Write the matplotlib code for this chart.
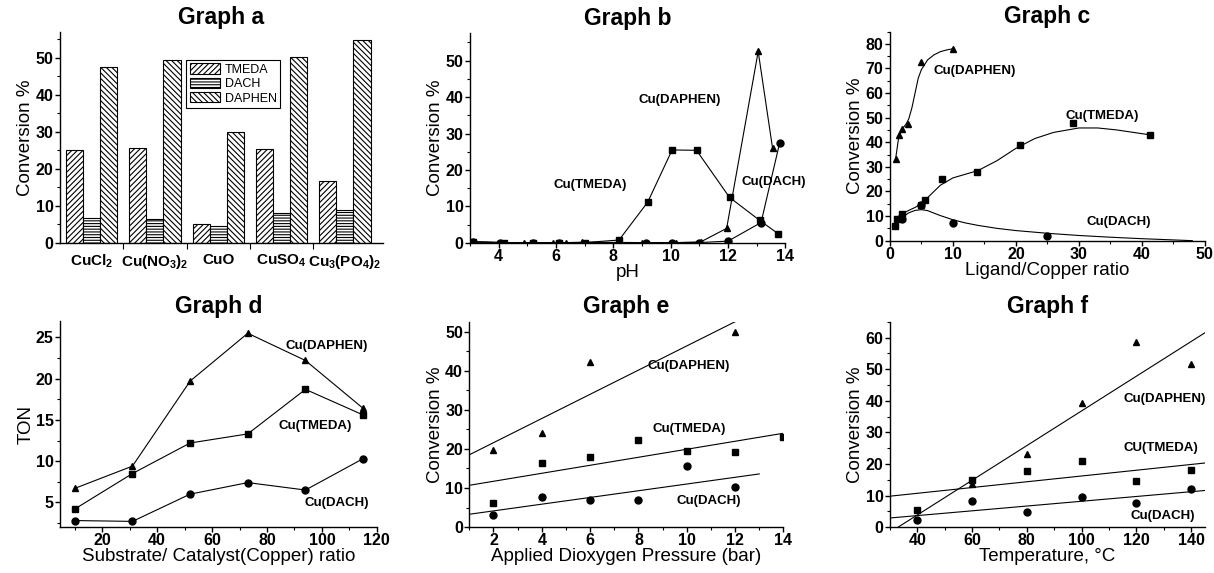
import numpy as np
import matplotlib
matplotlib.use("Agg")
import matplotlib.pyplot as plt
from matplotlib.ticker import AutoMinorLocator

plt.rcParams['font.family'] = ['Liberation Sans', 'DejaVu Sans']
plt.rcParams['mathtext.default'] = 'regular'
plt.rcParams['hatch.linewidth'] = 0.8

# ==== Données ====
# Graph a : sels de cuivre
sels = ['CuCl$_2$', 'Cu(NO$_3$)$_2$', 'CuO', 'CuSO$_4$', 'Cu$_3$(PO$_4$)$_2$']
a_tmeda = [25.0, 25.7, 5.0, 25.5, 16.8]
a_dach = [6.8, 6.6, 4.5, 8.2, 8.8]
a_daphen = [47.5, 49.4, 30.1, 50.4, 54.8]

# Graph b : pH
b_tmeda_x = [3.1, 4.2, 5.2, 6.1, 7.0, 8.2, 9.2, 10.05, 10.9, 12.05, 13.1, 13.75]
b_tmeda_y = [0.3, 0.1, 0.1, 0.1, 0.1, 0.8, 11.2, 25.5, 25.4, 12.5, 6.2, 2.5]
b_daphen_x = [3.1, 4.2, 4.9, 5.9, 6.35, 6.9, 9.0, 10.2, 11.05, 11.95, 13.05, 13.55]
b_daphen_y = [0.3, 0.1, 0.1, 0.1, 0.1, 0.2, 0.1, 0.1, 0.3, 4.0, 52.5, 26.0]
b_dach_x = [3.1, 4.05, 5.2, 6.1, 9.15, 10.05, 11.0, 12.0, 13.15, 13.8]
b_dach_y = [0.3, 0.1, 0.1, 0.1, 0.1, 0.1, 0.1, 0.5, 5.6, 27.5]

# Graph c : ratio ligand/cuivre (points + courbes)
c_daphen_x = [0.9, 1.4, 2.0, 2.8, 5.0, 10.0]
c_daphen_y = [33, 43, 45.5, 47.5, 72.5, 78]
c_tmeda_x = [0.8, 1.2, 2.0, 5.0, 5.5, 8.3, 13.8, 20.7, 29.0, 41.3]
c_tmeda_y = [6, 9, 11, 14.5, 16.5, 25, 28, 39, 48, 43]
c_dach_x = [2.0, 5.0, 10.0, 25.0]
c_dach_y = [8.8, 14.5, 7, 2]
c_daphen_fit_x = [0.9, 1.4, 2.0, 2.6, 3.0, 3.5, 4.0, 4.5, 5.0, 6.0, 7.0, 8.0, 9.0, 10.0]
c_daphen_fit_y = [33, 42, 45.5, 47.5, 49.5, 54, 60, 66, 69.5, 73.5, 75.5, 76.8, 77.5, 78]
c_tmeda_fit_x = [1.1, 2.0, 3.0, 4.0, 5.0, 6.0, 8.0, 10.0, 12.0, 14.0, 17.0, 20.0, 23.0, 26.0, 30.0, 33.0, 36.0, 41.3]
c_tmeda_fit_y = [9.5, 11, 12.3, 13.5, 15, 17.5, 22.5, 25.5, 27, 28.5, 32.5, 37.5, 41.5, 44, 45.8, 45.8, 45, 43]
c_dach_fit_x = [1.5, 2.0, 3.0, 4.0, 5.0, 6.0, 7.0, 8.0, 10.0, 12.0, 14.0, 17.0, 20.0, 25.0, 30.0, 35.0, 40.0, 45.0, 48.0]
c_dach_fit_y = [8.5, 9.5, 11.3, 12.3, 12.6, 12.2, 11.2, 10.2, 8.5, 7.2, 6.2, 5.0, 4.1, 3.0, 2.1, 1.4, 0.8, 0.3, 0.0]

# Graph d : ratio substrat/catalyseur
d_x = [10, 31, 52, 73, 94, 115]
d_daphen = [6.7, 9.4, 19.7, 25.5, 22.2, 16.4]
d_tmeda = [4.2, 8.5, 12.2, 13.3, 18.7, 15.6]
d_dach = [2.8, 2.7, 6.0, 7.4, 6.5, 10.3]

# Graph e : pression O2
e_daphen_x = [2, 4, 6, 12]
e_daphen_y = [19.8, 24.0, 42.2, 50.0]
e_tmeda_x = [2, 4, 6, 8, 10, 12, 14]
e_tmeda_y = [6.2, 16.5, 18.0, 22.2, 19.5, 19.3, 23.0]
e_dach_x = [2, 4, 6, 8, 10, 12]
e_dach_y = [3.0, 7.6, 6.9, 7.0, 15.7, 10.2]
e_daphen_fit = ([1, 12], [18.5, 52.5])
e_tmeda_fit = ([1, 14], [10.7, 24.0])
e_dach_fit = ([1, 13], [3.3, 13.6])

# Graph f : température
f_daphen_x = [60, 80, 100, 120, 140]
f_daphen_y = [13.5, 23.2, 39.3, 58.5, 51.7]
f_x = [40, 60, 80, 100, 120, 140]
f_tmeda_y = [5.5, 15.0, 17.7, 20.8, 14.5, 18.0]
f_dach_y = [2.2, 8.2, 4.8, 9.4, 7.8, 12.2]
f_daphen_fit = ([33, 145], [0.0, 61.5])
f_tmeda_fit = ([30, 145], [9.8, 20.3])
f_dach_fit = ([30, 145], [2.9, 11.6])

# ==== Style ====
TITRE = 16.5
TICK = 11.5
LABEL = 13.5
ANNOT = 9.5


def style_axes(ax, titre, xlabel, ylabel, minor_x=True):
    for s in ['top', 'right']:
        ax.spines[s].set_visible(False)
    ax.spines['left'].set_linewidth(1.0)
    ax.spines['bottom'].set_linewidth(1.0)
    ax.set_title(titre, fontsize=TITRE, fontweight='bold', pad=6)
    if xlabel:
        ax.set_xlabel(xlabel, fontsize=LABEL, labelpad=0)
    ax.set_ylabel(ylabel, fontsize=LABEL, labelpad=1)
    ax.yaxis.set_minor_locator(AutoMinorLocator(2))
    if minor_x:
        ax.xaxis.set_minor_locator(AutoMinorLocator(2))
    ax.tick_params(which='major', direction='out', length=3.5, width=1, labelsize=TICK, pad=1)
    ax.tick_params(which='minor', direction='out', length=2.2, width=0.8)
    for lab in ax.get_xticklabels() + ax.get_yticklabels():
        lab.set_fontweight('bold')


def serie(ax, x, y, marker, ms=5, ls='-'):
    ax.plot(x, y, linestyle=ls, color='black', lw=0.8, marker=marker, ms=ms,
            mfc='black', mec='black')


def annot(ax, x, y, txt):
    ax.text(x, y, txt, fontsize=ANNOT, fontweight='bold', ha='center', va='center')


fig = plt.figure(figsize=(12.14, 5.73), dpi=100)

# ---- Graph a ----
ax = fig.add_axes([0.0494, 0.576, 0.266, 0.368])
pos = np.arange(len(sels))
w = 0.27
ax.bar(pos - w, a_tmeda, w, color='white', edgecolor='black', hatch='//////', lw=0.8, label='TMEDA')
ax.bar(pos, a_dach, w, color='white', edgecolor='black', hatch='------', lw=0.8, label='DACH')
ax.bar(pos + w, a_daphen, w, color='white', edgecolor='black', hatch='\\\\\\\\\\\\', lw=0.8, label='DAPHEN')
ax.set_xlim(-0.5, 4.6)
ax.set_ylim(0, 57)
ax.set_yticks([0, 10, 20, 30, 40, 50])
ax.set_xticks(pos)
ax.set_xticklabels(sels)
style_axes(ax, 'Graph a', None, 'Conversion %', minor_x=False)
ax.set_xticks(pos[:-1] + 0.5, minor=True)
ax.tick_params(axis='x', which='major', length=0, pad=7)
ax.tick_params(axis='x', which='minor', length=4)
for lab in ax.get_xticklabels():
    lab.set_fontsize(11)
leg = ax.legend(loc='upper left', bbox_to_anchor=(0.39, 0.87), fontsize=9, frameon=True,
                fancybox=False, edgecolor='black', framealpha=1, borderpad=0.3,
                handlelength=2.4, handleheight=0.9, labelspacing=0.15, handletextpad=0.4,
                borderaxespad=0)
leg.get_frame().set_linewidth(0.8)

# ---- Graph b ----
ax = fig.add_axes([0.387, 0.576, 0.260, 0.366])
serie(ax, b_tmeda_x, b_tmeda_y, 's', ms=4.5)
serie(ax, b_daphen_x, b_daphen_y, '^', ms=5)
serie(ax, b_dach_x, b_dach_y, 'o', ms=5)
ax.set_xlim(3, 14)
ax.set_ylim(0, 57.5)
ax.set_xticks([4, 6, 8, 10, 12, 14])
ax.set_yticks([0, 10, 20, 30, 40, 50])
style_axes(ax, 'Graph b', 'pH', 'Conversion %')
annot(ax, 10.3, 39.3, 'Cu(DAPHEN)')
annot(ax, 7.2, 15.9, 'Cu(TMEDA)')
annot(ax, 13.6, 16.8, 'Cu(DACH)')

# ---- Graph c ----
ax = fig.add_axes([0.733, 0.580, 0.2595, 0.365])
ax.plot(c_daphen_fit_x, c_daphen_fit_y, color='black', lw=0.8)
ax.plot(c_tmeda_fit_x, c_tmeda_fit_y, color='black', lw=0.8)
ax.plot(c_dach_fit_x, c_dach_fit_y, color='black', lw=0.8)
serie(ax, c_daphen_x, c_daphen_y, '^', ms=5, ls='none')
serie(ax, c_tmeda_x, c_tmeda_y, 's', ms=4.5, ls='none')
serie(ax, c_dach_x, c_dach_y, 'o', ms=5, ls='none')
ax.set_xlim(0, 50)
ax.set_ylim(0, 85)
ax.set_xticks([0, 10, 20, 30, 40, 50])
ax.set_yticks(np.arange(0, 81, 10))
style_axes(ax, 'Graph c', 'Ligand/Copper ratio', 'Conversion %')
annot(ax, 13.4, 68.9, 'Cu(DAPHEN)')
annot(ax, 33.7, 50.8, 'Cu(TMEDA)')
annot(ax, 36.3, 7.7, 'Cu(DACH)')

# ---- Graph d ----
ax = fig.add_axes([0.0494, 0.08, 0.261, 0.36])
serie(ax, d_x, d_daphen, '^', ms=5)
serie(ax, d_x, d_tmeda, 's', ms=4.5)
serie(ax, d_x, d_dach, 'o', ms=5)
ax.set_xlim(4.6, 120)
ax.set_ylim(2, 27)
ax.set_xticks([20, 40, 60, 80, 100, 120])
ax.set_yticks([5, 10, 15, 20, 25])
style_axes(ax, 'Graph d', 'Substrate/ Catalyst(Copper) ratio', 'TON')
annot(ax, 101.8, 24.0, 'Cu(DAPHEN)')
annot(ax, 97.5, 14.3, 'Cu(TMEDA)')
annot(ax, 105.5, 4.9, 'Cu(DACH)')

# ---- Graph e ----
ax = fig.add_axes([0.3866, 0.08, 0.2587, 0.3585])
ax.plot(*e_daphen_fit, color='black', lw=0.8)
ax.plot(*e_tmeda_fit, color='black', lw=0.8)
ax.plot(*e_dach_fit, color='black', lw=0.8)
serie(ax, e_daphen_x, e_daphen_y, '^', ms=5, ls='none')
serie(ax, e_tmeda_x, e_tmeda_y, 's', ms=4.5, ls='none')
serie(ax, e_dach_x, e_dach_y, 'o', ms=5, ls='none')
ax.set_xlim(1, 14)
ax.set_ylim(0, 52.5)
ax.set_xticks([2, 4, 6, 8, 10, 12, 14])
ax.set_yticks([0, 10, 20, 30, 40, 50])
style_axes(ax, 'Graph e', 'Applied Dioxygen Pressure (bar)', 'Conversion %')
annot(ax, 10.1, 41.3, 'Cu(DAPHEN)')
annot(ax, 10.1, 25.0, 'Cu(TMEDA)')
annot(ax, 10.9, 6.7, 'Cu(DACH)')

# ---- Graph f ----
ax = fig.add_axes([0.733, 0.08, 0.2595, 0.3585])
ax.plot(*f_daphen_fit, color='black', lw=0.8)
ax.plot(*f_tmeda_fit, color='black', lw=0.8)
ax.plot(*f_dach_fit, color='black', lw=0.8)
serie(ax, f_daphen_x, f_daphen_y, '^', ms=5, ls='none')
serie(ax, f_x, f_tmeda_y, 's', ms=4.5, ls='none')
serie(ax, f_x, f_dach_y, 'o', ms=5, ls='none')
ax.set_xlim(30, 145)
ax.set_ylim(0, 65)
ax.set_xticks([40, 60, 80, 100, 120, 140])
ax.set_yticks([0, 10, 20, 30, 40, 50, 60])
style_axes(ax, 'Graph f', 'Temperature, °C', 'Conversion %')
annot(ax, 130.3, 40.4, 'Cu(DAPHEN)')
annot(ax, 129.1, 25.2, 'CU(TMEDA)')
annot(ax, 129.7, 3.6, 'Cu(DACH)')

fig.savefig('out.png', dpi=100)
